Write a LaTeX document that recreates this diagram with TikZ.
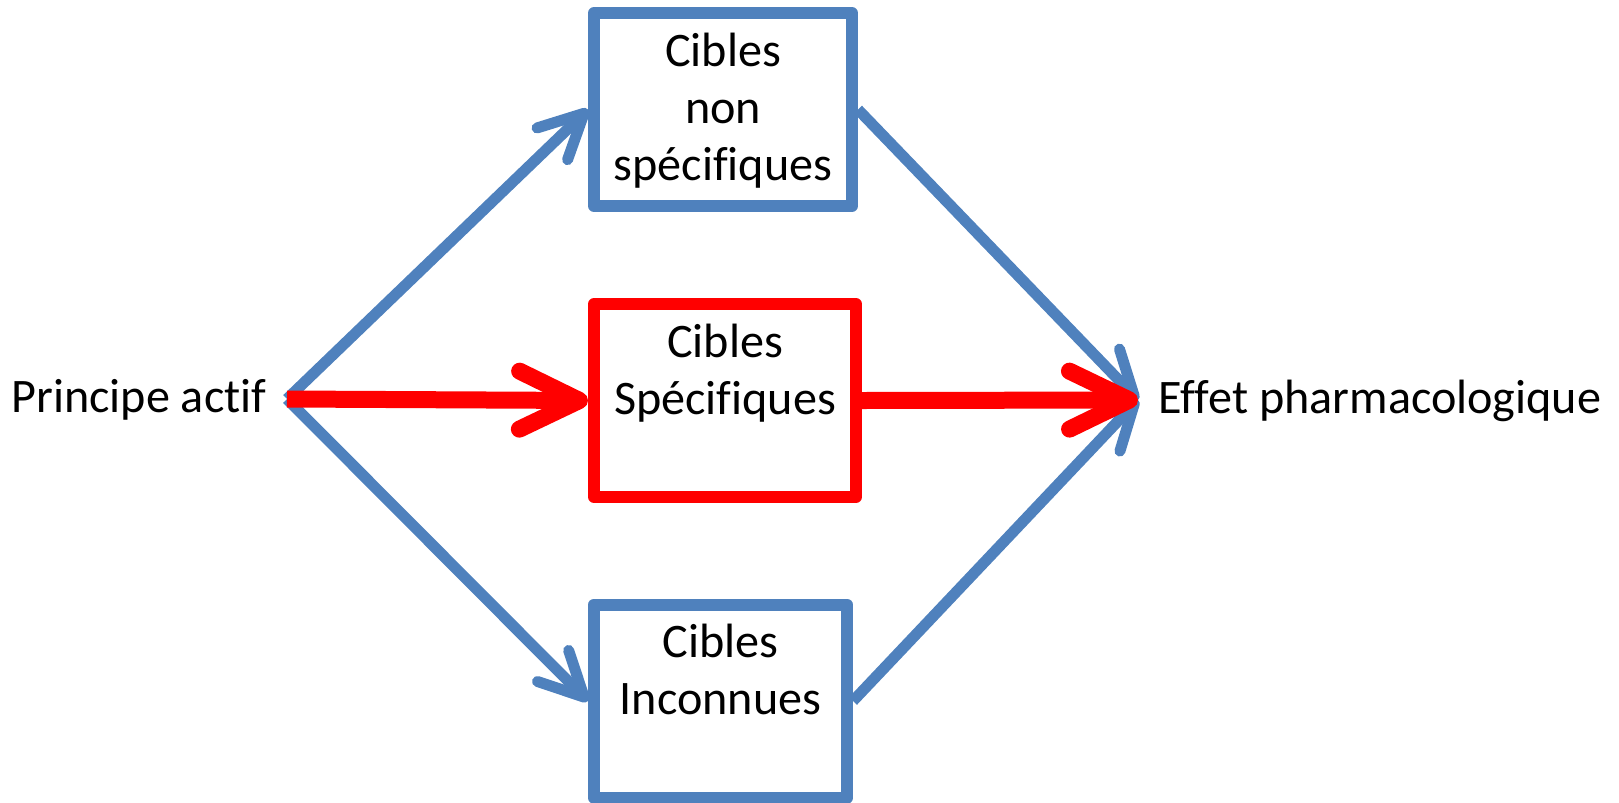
\documentclass[tikz,border=0pt]{standalone}
\usepackage{fontspec}
\setmainfont{Carlito}[Ligatures=NoCommon]
\usetikzlibrary{arrows.meta, positioning}
\definecolor{cibblue}{HTML}{4F81BD}
\definecolor{cibred}{HTML}{FF0000}

\begin{document}
\begin{tikzpicture}[line join=round,
        cible/.style={draw, line width=0.12cm, minimum height=1.93cm, inner sep=0pt},
        cibletxt/.style={anchor=north, align=center, inner sep=0pt, font=\fontsize{13.7}{16.2}\selectfont},
        ends/.style={font=\fontsize{13.7}{16.2}\selectfont, inner sep=0.2cm, text height=0.74em, text depth=0pt},
        bluearrow/.style={cibblue, line width=0.11cm, -{Straight Barb[length=4.4mm, width=4.4mm, round]}},
        redarrow/.style={cibred, line width=0.17cm, -{Straight Barb[length=6mm, width=5.8mm, round]}}]
    \useasboundingbox (0,0) rectangle (16.19,-8.02);

    % the three kinds of targets
    \node[cible, cibblue, minimum width=2.58cm] (nonspec) at (7.23,-1.095) {};
    \node[cible, cibred, minimum width=2.62cm] (spec) at (7.25,-4.005) {};
    \node[cible, cibblue, minimum width=2.53cm] (inconnu) at (7.205,-7.01) {};
    \node[cibletxt] (nonspectxt) at ([yshift=-0.25cm]nonspec.north) {Cibles\\non\\spécifiques};
    \node[cibletxt] (spectxt) at ([yshift=-0.25cm]spec.north) {Cibles\\Spécifiques};
    \node[cibletxt] (inconnutxt) at ([yshift=-0.25cm]inconnu.north) {Cibles\\Inconnues};

    % drug and effect
    \node[ends, anchor=east] (pa) at (2.87,-3.99) {Principe actif};
    \node[ends, anchor=west] (eff) at (11.38,-4.0) {Effet pharmacologique};

    \foreach \b in {nonspec, inconnu} {
        \draw[bluearrow] (pa.east) -- (\b.west);
        \draw[bluearrow] (\b.east) -- (eff.west);
    }
    \draw[redarrow] (pa.east) -- (spec.west);
    \draw[redarrow] (spec.east) -- (eff.west);
\end{tikzpicture}
\end{document}
